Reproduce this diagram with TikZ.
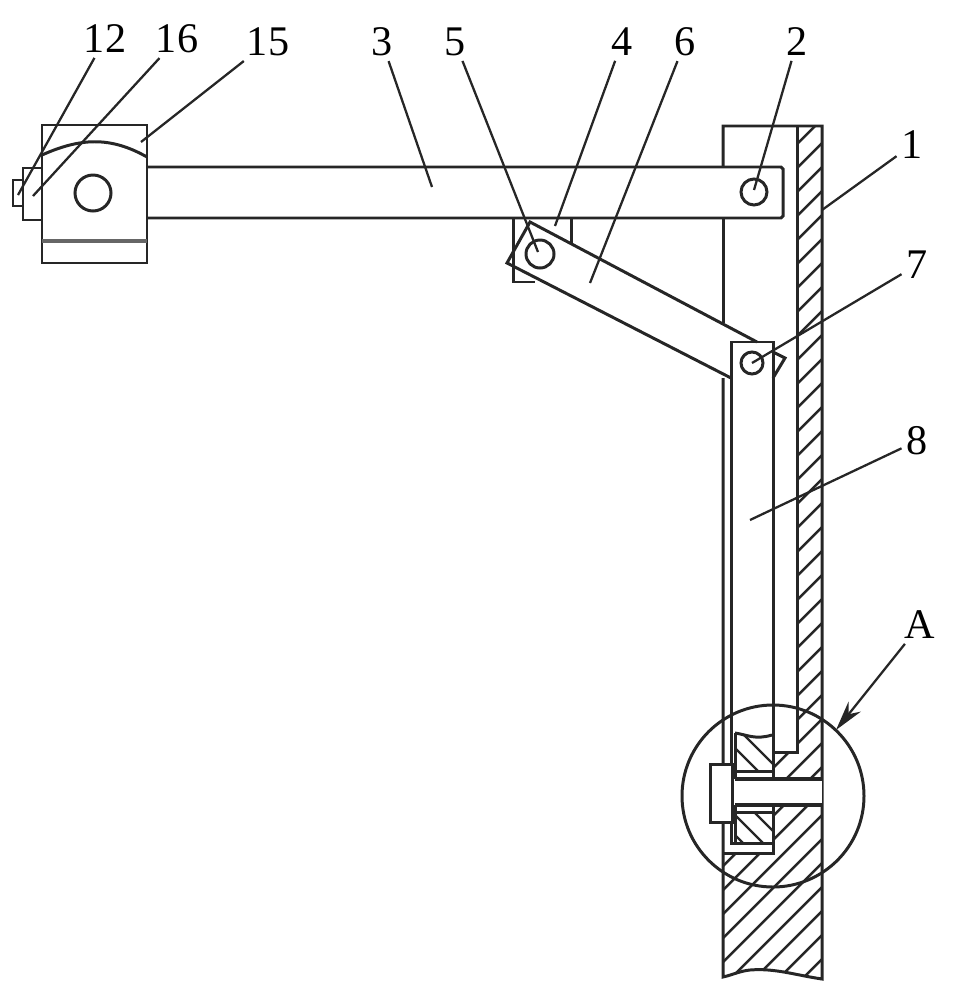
\documentclass[tikz,border=0pt]{standalone}
\usepackage{fontspec}
\setmainfont{Liberation Serif}
\usepackage{tikz}
\usetikzlibrary{arrows.meta}
\tikzset{
  part/.style={line width=0.85pt,black!85},
  hatchline/.style={line width=0.7pt,black!85},
  leader/.style={line width=0.65pt,black!85},
  numlabel/.style={inner sep=1.2pt,font=\fontsize{12}{14}\selectfont}
}
\begin{document}
\begin{tikzpicture}[x=0.01cm,y=-0.01cm]
  \useasboundingbox (0,0) rectangle (955,1000);
  % hatched wall
  \begin{scope}
    \clip (797,126) -- (822,126) -- (822,979) .. controls (795,975) and (775,968) .. (750,970) .. controls (740,971) and (732,975) .. (723,977) -- (723,853) -- (772,853) -- (772,752) -- (797,752) -- cycle;
    \foreach \c in {941,965,...,1805} {
      \draw[hatchline] (600,\c-600) -- (900,\c-900);
    }
  \end{scope}
  % hatched block at the lower end of the bar
  \begin{scope}
    \clip (735,733) .. controls (748,735) and (755,740) .. (772,735) -- (772,771) -- (735,771) -- cycle;
    \foreach \c in {-35,-13,9} {
      \draw[hatchline] (700,700-\c) -- (800,800-\c);
    }
  \end{scope}
  \begin{scope}
    \clip (735,812) rectangle (772,843);
    \foreach \c in {-100,-80,-58} {
      \draw[hatchline] (700,700-\c) -- (800,800-\c);
    }
  \end{scope}
  % wall outline
  \draw[part] (723,167) -- (723,126) -- (822,126) -- (822,979) .. controls (795,975) and (775,968) .. (750,970) .. controls (740,971) and (732,975) .. (723,977) -- (723,378);
  \draw[part] (723,218) -- (723,323);
  \draw[part] (797,126) -- (797,752) -- (772,752);
  % sliding bar
  \draw[part] (731,378) -- (731,342) -- (773,342) -- (773,853) -- (723,853);
  \draw[part] (731,378) -- (731,843) -- (773,843);
  \draw[part] (735,733) -- (735,843);
  \draw[part] (735,733) .. controls (748,735) and (755,740) .. (772,735);
  \draw[part] (735,771) -- (772,771) (735,812) -- (772,812);
  \draw[part] (773,352) -- (785,358) -- (773,378);
  \draw[part] (752,363) circle (11);
  % pin and head
  \fill[white] (733,779) rectangle (822,805);
  \draw[part,line width=1pt] (735,779) -- (822,779) (735,805) -- (822,805);
  \filldraw[part,fill=white] (710,764) rectangle (732,822);
  % detail circle
  \draw[part] (773,796) circle (91);
  % arm
  \draw[part] (147,167) -- (781,167) -- (783,169) -- (783,216) -- (781,218) -- (147,218);
  \draw[part] (754,192) circle (13);
  % clamp block
  \draw[part] (42,125) rectangle (147,263);
  \draw[part,line width=1.1pt,black!60] (42,241) -- (147,241);
  \draw[part] (42,155) .. controls (80,138) and (110,136) .. (147,157);
  \draw[part] (93,193) circle (18);
  \draw[part] (42,168) -- (23,168) -- (23,220) -- (42,220);
  \draw[part] (23,180) -- (13,180) -- (13,206) -- (23,206);
  % bracket and link
  \draw[part] (513,218) -- (513,282) -- (535,282);
  \draw[part] (571,218) -- (571,245);
  \draw[part] (757,342) -- (530,222) -- (507,263) -- (731,378);
  \draw[part] (540,254) circle (14);
  % labels and leaders
  \foreach \name/\x/\y/\ex/\ey in {12/105/39/18/195, 16/177/39/33/196, 15/268/42/141/142, 3/382/42/432/187, 5/455/42/538/252, 4/622/42/555/226, 6/685/42/590/283, 2/797/42/754/190, 1/912/145/822/210, 7/917/265/752/363, 8/917/441/750/520} {
    \node[numlabel] (lab\name) at (\x,\y) {\name};
    \coordinate (end\name) at (\ex,\ey);
    \draw[leader] (lab\name) -- (end\name);
  }
  \node[numlabel] (labA) at (920,625) {A};
  \coordinate (endA) at (836,730);
  \draw[leader,-{Stealth[length=8.5pt,width=4.5pt]}] (labA) -- (endA);
\end{tikzpicture}
\end{document}
